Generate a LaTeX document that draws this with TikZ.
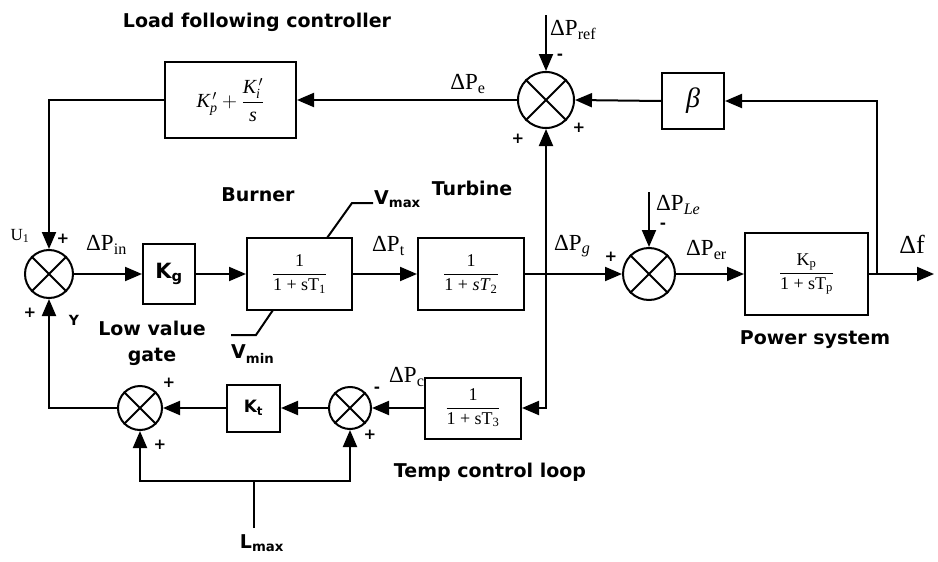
\documentclass[tikz,border=0pt]{standalone}
\usepackage{amsmath}
\usepackage{fontspec}
\setmainfont{Liberation Serif}
\newfontfamily\labfont{DejaVu Sans}
\usetikzlibrary{arrows.meta}
\tikzset{
  blk/.style={draw, line width=2pt, inner sep=0pt},
  sumj/.style={draw, circle, line width=2pt, inner sep=0pt},
  conn/.style={line width=2pt, -{Triangle[length=17pt,width=14pt]}},
  wire/.style={line width=2pt},
  lab/.style={font=\labfont\bfseries\fontsize{19}{22}\selectfont, inner sep=0pt},
  sgn/.style={font=\labfont\bfseries\fontsize{15}{17}\selectfont, inner sep=0pt},
  sig/.style={font=\fontsize{23}{26}\selectfont, inner sep=0pt},
  fr/.style={font=\fontsize{18}{21}\selectfont},
}
\begin{document}
\begin{tikzpicture}[x=1pt,y=-1pt]
\useasboundingbox (0,0) rectangle (938,562);
% blocks
\node[blk, minimum width=131pt, minimum height=76pt, font=\fontsize{20}{23}\selectfont] (lfc) at (230.5,100)
  {$\textit{K}_{\textit{p}}^{\,\prime}+\dfrac{\textit{K}_{\textit{i}}^{\,\prime}}{\textit{s}}$};
\node[sumj, minimum size=56pt] (sumA) at (546,100) {};
\node[blk, minimum width=62pt, minimum height=56pt, font=\fontsize{28}{30}\selectfont] (beta) at (693,101) {\textit{β}};
\node[sumj, minimum size=48pt] (sum1) at (49,274) {};
\node[blk, minimum width=52pt, minimum height=60pt, font=\labfont\bfseries\fontsize{21}{24}\selectfont] (kg) at (169,274) {$\text{K}_{\text{g}}$};
\node[blk, minimum width=105pt, minimum height=72pt, fr] (t1) at (299.5,274) {$\dfrac{\text{1}}{\text{1 + sT}_{\text{1}}}$};
\node[blk, minimum width=106pt, minimum height=72pt, fr] (t2) at (471,274) {$\dfrac{\text{1}}{\text{1 + \textit{sT}}_{\text{2}}}$};
\node[sumj, minimum size=52pt] (sum2) at (649,274) {};
\node[blk, minimum width=123pt, minimum height=82pt, fr] (ps) at (806.5,274) {$\dfrac{\text{K}_{\text{p}}}{\text{1 + sT}_{\text{p}}}$};
\node[sumj, minimum size=44pt] (sum3) at (140,408) {};
\node[blk, minimum width=53pt, minimum height=47pt, font=\labfont\bfseries\fontsize{17}{20}\selectfont] (kt) at (253.5,408) {$\text{K}_{\text{t}}$};
\node[sumj, minimum size=42pt] (sum4) at (350,408) {};
\node[blk, minimum width=96pt, minimum height=61pt, fr] (t3) at (473,408) {$\dfrac{\text{1}}{\text{1 + sT}_{\text{3}}}$};
\foreach \s in {sumA,sum1,sum2,sum3,sum4}{
  \draw[wire] (\s.45) -- (\s.225) (\s.135) -- (\s.315);
}
% free ends
\coordinate (ref) at (546,15);
\coordinate (ple) at (649,192);
\coordinate (out) at (934,274);
\coordinate (bf) at (877,274);
\coordinate (bg) at (546,274);
\coordinate (lm) at (254,528);
\coordinate (lb) at (254,481);
% connectors
\draw[conn] (sumA.west) -- (lfc.east);
\draw[conn] (lfc.west) -| (sum1.north);
\draw[conn] (ref) -- (sumA.north);
\draw[conn] (beta.west) -- (sumA.east);
\draw[conn] (bf) |- (beta.east);
\draw[conn] (sum1.east) -- (kg.west);
\draw[conn] (kg.east) -- (t1.west);
\draw[conn] (t1.east) -- (t2.west);
\draw[conn] (t2.east) -- (sum2.west);
\draw[conn] (sum2.east) -- (ps.west);
\draw[conn] (ps.east) -- (out);
\draw[conn] (ple) -- (sum2.north);
\draw[conn] (bg) -- (sumA.south);
\draw[conn] (bg) |- (t3.east);
\draw[conn] (t3.west) -- (sum4.east);
\draw[conn] (sum4.west) -- (kt.east);
\draw[conn] (kt.west) -- (sum3.east);
\draw[conn] (sum3.west) -| (sum1.south);
\draw[wire] (lm) -- (lb);
\draw[conn] (lb) -| (sum3.south);
\draw[conn] (lb) -| (sum4.south);
% limiter marks
\draw[wire] (327,238) -- (352,203) -- (373,203);
\draw[wire] (273,310) -- (256,335) -- (231,335);
% labels
\node[lab] (title) at (257,22) {Load following controller};
\node[lab] (burner) at (258,195) {Burner};
\node[lab, anchor=west] (vmax) at (374,199) {$\text{V}_{\text{max}}$};
\node[lab] (turb) at (472,188) {Turbine};
\node[lab] (lvg1) at (152,328) {Low value};
\node[lab] (lvg2) at (152,357) {gate};
\node[lab, anchor=west] (vmin) at (231,354) {$\text{V}_{\text{min}}$};
\node[lab] (psys) at (815,340) {Power system};
\node[lab] (tcl) at (490,472) {Temp control loop};
\node[lab] (lmax) at (262,543) {$\text{L}_{\text{max}}$};
\node[sig, anchor=west] (dpref) at (550,30) {$\text{ΔP}_{\text{ref}}$};
\node[sig] (dpe) at (468,84) {$\text{ΔP}_{\text{e}}$};
\node[sig, font=\fontsize{17}{19}\selectfont] (u1) at (20,236) {$\text{U}_{\text{1}}$};
\node[sig, anchor=west] (dpin) at (86,245) {$\text{ΔP}_{\text{in}}$};
\node[sig, anchor=west] (dpt) at (372,246) {$\text{ΔP}_{\text{t}}$};
\node[sig, anchor=west] (dpg) at (554,246) {$\text{ΔP}_{\textit{g}}$};
\node[sig, anchor=west] (dple) at (656,205) {$\text{ΔP}_{\textit{Le}}$};
\node[sig, anchor=west] (dper) at (686,250) {$\text{ΔP}_{\text{er}}$};
\node[sig, font=\fontsize{26}{28}\selectfont] (df) at (912,244) {Δf};
\node[sig, anchor=west] (dpc) at (389,377) {$\text{ΔP}_{\text{c}}$};
\node[sgn] (m1) at (560,57) {-};
\node[sgn] (p1) at (518,139) {+};
\node[sgn] (p2) at (579,128) {+};
\node[sgn] (p3) at (63,239) {+};
\node[sgn] (m2) at (663,226) {-};
\node[sgn] (p4) at (611,257) {+};
\node[sgn] (p5) at (30,313) {+};
\node[sgn, font=\labfont\bfseries\fontsize{14}{16}\selectfont] (yy) at (74,320) {Y};
\node[sgn] (p6) at (169,383) {+};
\node[sgn] (p7) at (160,445) {+};
\node[sgn] (m3) at (377,390) {-};
\node[sgn] (p8) at (370,435) {+};
\end{tikzpicture}
\end{document}
